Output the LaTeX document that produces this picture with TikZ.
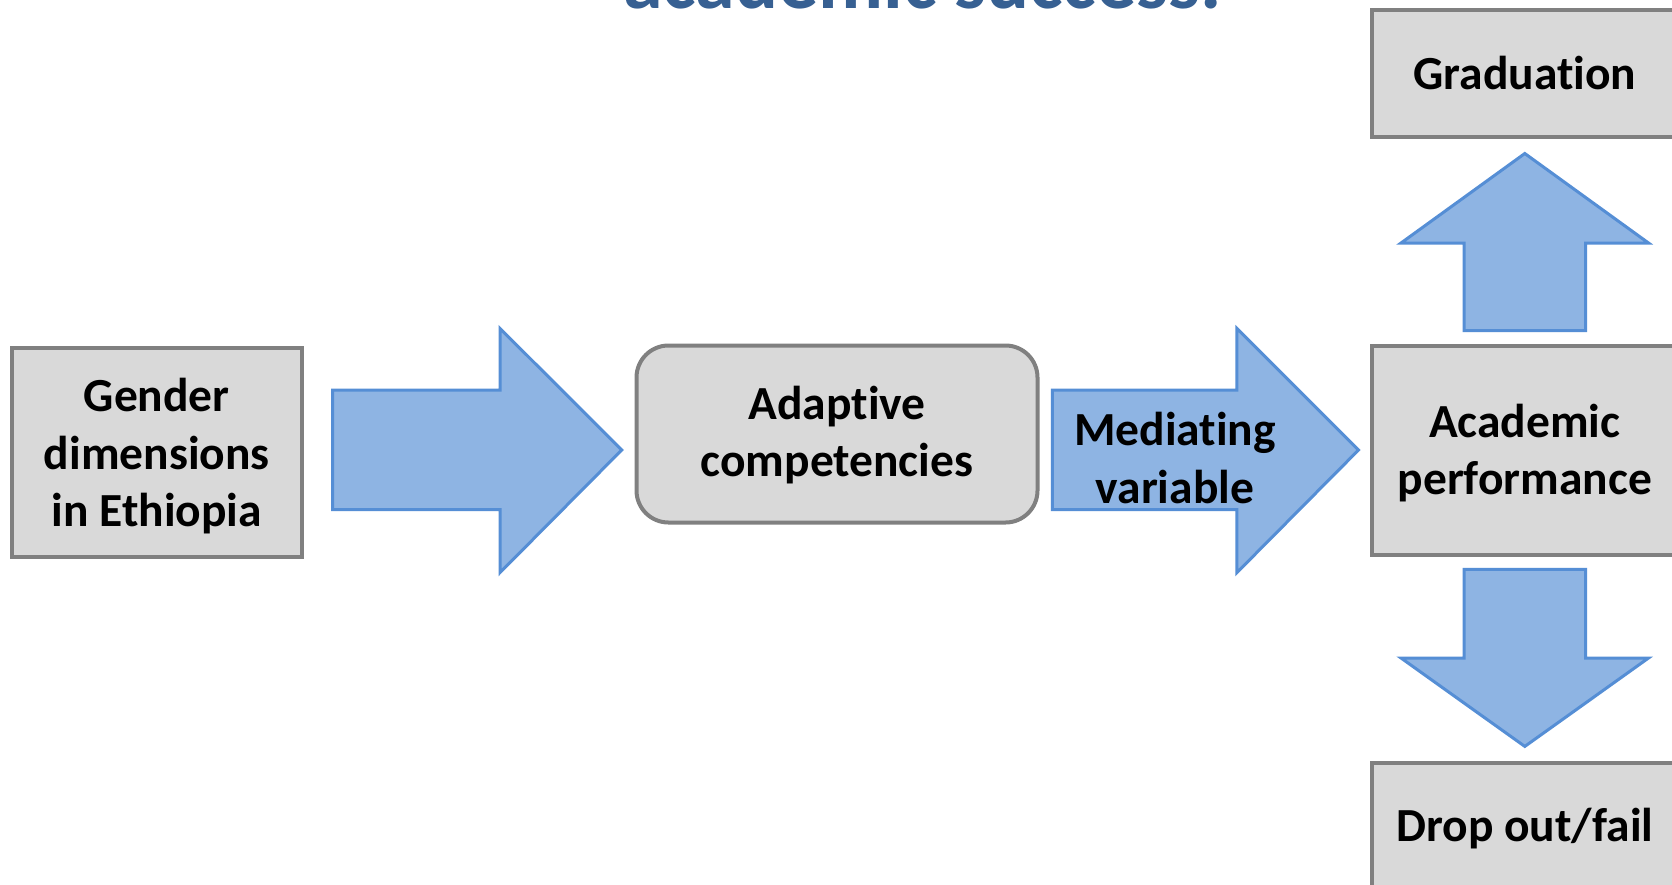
\documentclass[tikz,border=0pt]{standalone}
\usepackage{fontspec}
\setmainfont{Carlito}[Ligatures={NoCommon,NoContextual},RawFeature={-liga;-clig;-calt;-dlig}]
\definecolor{boxfill}{HTML}{D9D9D9}
\definecolor{boxline}{HTML}{808080}
\definecolor{arrfill}{HTML}{8EB4E3}
\definecolor{arrline}{HTML}{558ED5}
\definecolor{titleblue}{HTML}{376092}
\tikzset{
  box/.style={draw=boxline, fill=boxfill, line width=4pt, inner sep=0pt},
  blockarrow/.style={draw=arrline, fill=arrfill, line width=3pt, line join=miter},
  lbl/.style={inner sep=0pt, align=center, font=\fontsize{47.5}{57.6}\selectfont\bfseries}
}
\begin{document}
\begin{tikzpicture}[x=1pt,y=-1pt]
\useasboundingbox (0,0) rectangle (1672,884);
\clip (0,0) rectangle (1672,884);
\fill[white] (0,0) rectangle (1672,884);
% title (cut off at top, as in the reference)
\node[anchor=base, inner sep=0pt, text=titleblue, font=\fontsize{80}{96}\selectfont\bfseries] (title) at (922.5,8) {academic success.};
% boxes
\node[box, minimum width=290pt, minimum height=209pt] (gender) at (156.75,452.1) {};
\node[box, rounded corners=32pt, minimum width=401pt, minimum height=177pt] (adapt) at (837,434) {};
\node[box, minimum width=305pt, minimum height=209pt] (acad) at (1524.8,450) {};
\node[box, minimum width=305pt, minimum height=127pt] (grad) at (1524.8,73) {};
\node[box, minimum width=305pt, minimum height=260pt, anchor=north] (drop) at (1524.8,761.3) {};
% box texts
\node[lbl] (genderlbl) at ([yshift=-4pt]gender.center) {Gender\\dimensions\\in Ethiopia};
\node[lbl] (adaptlbl) at ([yshift=-1pt]adapt.center) {Adapt\kern0pt ive\\competencies};
\node[lbl] (acadlbl) at ([yshift=-3pt]acad.center) {Academic\\performance};
\node[lbl] (gradlbl) at (grad.center) {Graduat\kern0pt ion};
\node[lbl] (droplbl) at (1524.8,829) {Drop out/fail};
% block arrows
\draw[blockarrow] (332.7,390) -- (500,390) -- (500,328.4) -- (621.7,450) -- (500,572.6) -- (500,509.7) -- (332.7,509.7) -- cycle;
\draw[blockarrow] (1052.4,390) -- (1236.9,390) -- (1236.9,328.4) -- (1358.5,450) -- (1236.9,572.6) -- (1236.9,509.7) -- (1052.4,509.7) -- cycle;
\node[lbl] (med) at (1175,458) {Mediat\kern0pt ing\\variable};
\draw[blockarrow] (1464,330.6) -- (1464,243) -- (1401,243) -- (1524.8,153.5) -- (1648.5,243) -- (1585.6,243) -- (1585.6,330.6) -- cycle;
\draw[blockarrow] (1464,569.4) -- (1464,658) -- (1401,658) -- (1524.8,746.4) -- (1648.5,658) -- (1585.6,658) -- (1585.6,569.4) -- cycle;
\end{tikzpicture}
\end{document}
